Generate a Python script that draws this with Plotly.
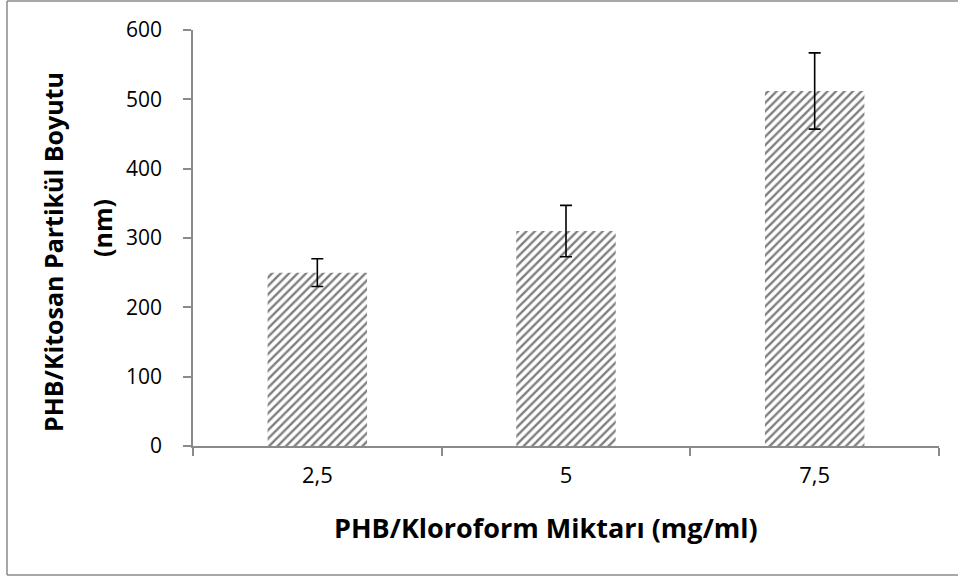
import plotly.graph_objects as go

categories = ["2,5", "5", "7,5"]
values = [250, 310, 512]
errors = [20, 37, 55]
y_ticks = [0, 100, 200, 300, 400, 500, 600]

x_title = "PHB/Kloroform Miktarı (mg/ml)"
y_title_1 = "PHB/Kitosan Partikül Boyutu"
y_title_2 = "(nm)"

FONT = "Open Sans"
AXIS_COLOR = "#8a8a8a"

# plot area geometry (pixels)
L, R, T, B = 193, 939, 30, 446
W, H = R - L, B - T

def px(x):
    return (x - L) / W

def py(y):
    return (B - y) / H

fig = go.Figure()
fig.add_trace(go.Bar(
    x=categories,
    y=values,
    width=0.4,
    marker=dict(
        color="white",
        line=dict(width=0),
        pattern=dict(shape="/", fgcolor="black", bgcolor="white", size=6, solidity=0.4),
    ),
    error_y=dict(type="data", array=errors, visible=True, color="black", thickness=1.6, width=6),
    showlegend=False,
))

fig.update_layout(
    width=958, height=578,
    margin=dict(l=L, r=958 - R, t=T, b=578 - B),
    paper_bgcolor="white", plot_bgcolor="white",
    font=dict(family=FONT, size=17, color="black"),
    xaxis=dict(
        showline=True, linecolor=AXIS_COLOR, linewidth=1.5,
        ticks="outside", ticklen=8, tickcolor=AXIS_COLOR, tickwidth=1.5,
        tickson="boundaries", tickfont=dict(size=22, family=FONT),
        showgrid=False, ticklabelstandoff=9,
    ),
    yaxis=dict(
        range=[0, 600], tickvals=y_ticks,
        showline=True, linecolor=AXIS_COLOR, linewidth=1.5,
        ticks="outside", ticklen=8, tickcolor=AXIS_COLOR, tickwidth=1.5,
        tickfont=dict(size=21, family=FONT),
        showgrid=False, zeroline=False, ticklabelstandoff=17,
    ),
    annotations=[
        dict(text="<b>" + x_title + "</b>", xref="paper", yref="paper",
             x=px(546), y=py(527), showarrow=False, xanchor="center", yanchor="middle",
             font=dict(size=27, family=FONT)),
        dict(text="<b>" + y_title_1 + "</b>", xref="paper", yref="paper",
             x=px(53), y=py(252), showarrow=False, xanchor="center", yanchor="middle",
             textangle=-90, font=dict(size=25, family=FONT)),
        dict(text="<b>" + y_title_2 + "</b>", xref="paper", yref="paper",
             x=px(102), y=py(228), showarrow=False, xanchor="center", yanchor="middle",
             textangle=-90, font=dict(size=25, family=FONT)),
    ],
    shapes=[
        dict(type="line", xref="paper", yref="paper", x0=px(7), x1=px(958), y0=py(1), y1=py(1),
             line=dict(color=AXIS_COLOR, width=1.5)),
        dict(type="line", xref="paper", yref="paper", x0=px(7), x1=px(958), y0=py(575), y1=py(575),
             line=dict(color=AXIS_COLOR, width=1.5)),
        dict(type="line", xref="paper", yref="paper", x0=px(7), x1=px(7), y0=py(1), y1=py(575),
             line=dict(color=AXIS_COLOR, width=1.5)),
    ],
)

fig.write_html("out.html")
